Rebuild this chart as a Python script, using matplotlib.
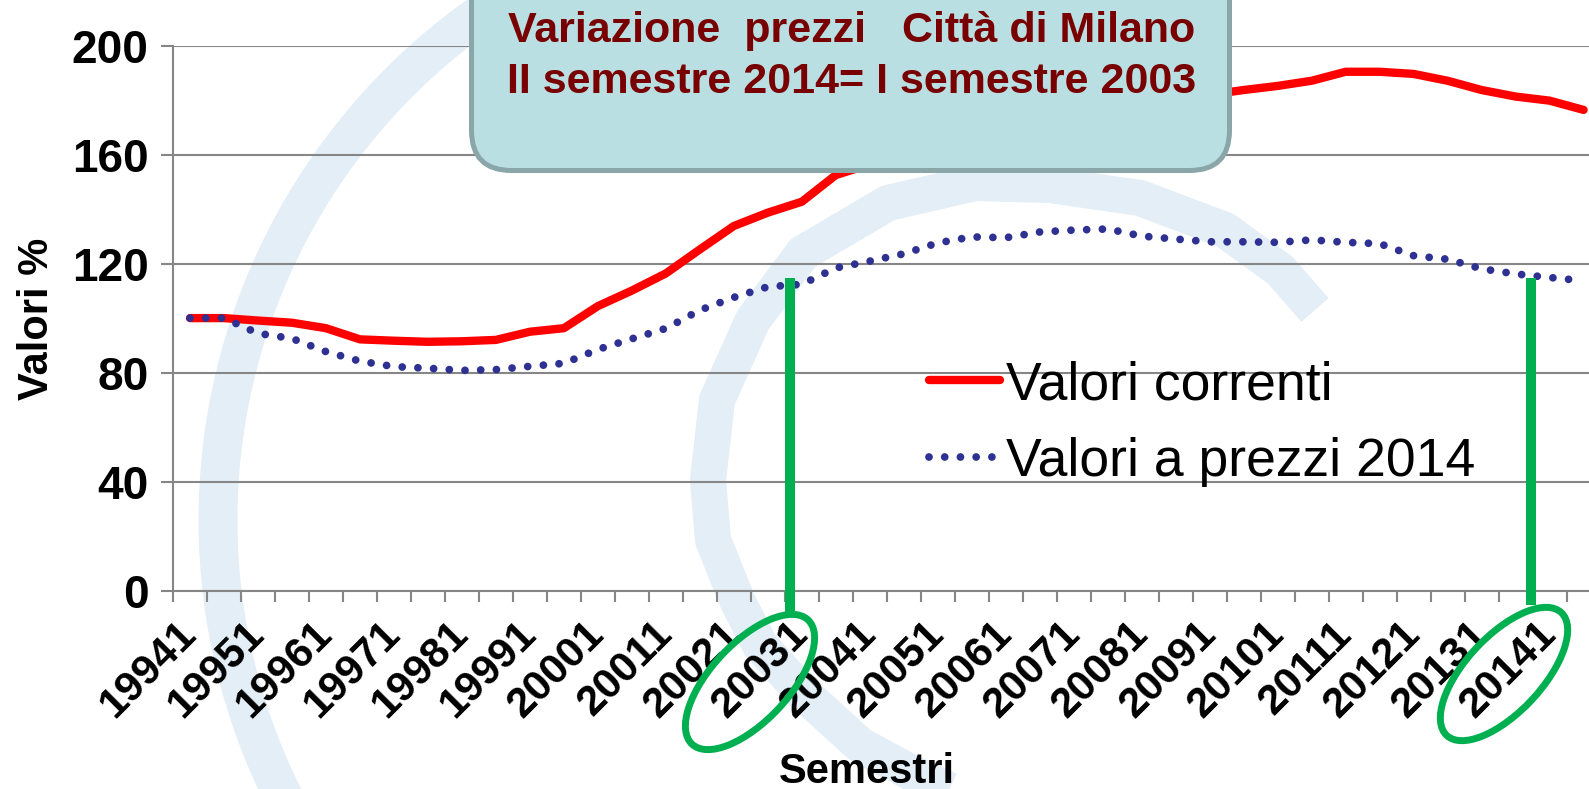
import matplotlib
matplotlib.use("Agg")
import matplotlib.pyplot as plt
from matplotlib.patches import Arc, Ellipse, FancyBboxPatch
import numpy as np

plt.rcParams['font.family'] = ['Liberation Sans', 'DejaVu Sans']

# semestri (anno + semestre)
semestri = ['19941', '19942', '19951', '19952', '19961', '19962', '19971', '19972',
            '19981', '19982', '19991', '19992', '20001', '20002', '20011', '20012',
            '20021', '20022', '20031', '20032', '20041', '20042', '20051', '20052',
            '20061', '20062', '20071', '20072', '20081', '20082', '20091', '20092',
            '20101', '20102', '20111', '20112', '20121', '20122', '20131', '20132',
            '20141', '20142']

# valori (quelli sotto il riquadro sono stimati)
valori_correnti = [100.0, 100.0, 99.1, 98.3, 96.3, 92.2, 91.7, 91.3, 91.5, 92.0,
                   95.0, 96.3, 104.4, 110.1, 116.4, 125.2, 133.8, 138.7, 142.7, 152.5,
                   156.4, 161.5, 168.4, 172.9, 174.2, 178.6, 181.3, 183.5, 181.6, 181.8,
                   182.0, 183.7, 185.2, 187.1, 190.4, 190.4, 189.6, 187.1, 183.7, 181.3,
                   179.8, 176.4]
valori_prezzi_2014 = [100.0, 100.0, 94.4, 92.5, 87.7, 84.2, 82.2, 81.6, 80.8, 81.1,
                      82.3, 83.4, 88.5, 92.4, 96.2, 102.9, 107.6, 111.5, 112.4, 118.4,
                      120.9, 123.6, 127.6, 129.8, 129.5, 131.6, 132.3, 132.7, 130.1, 129.0,
                      128.0, 128.0, 127.8, 128.7, 127.8, 127.3, 122.9, 121.6, 118.1, 116.2,
                      114.9, 113.7]
y_ticks = [0, 40, 80, 120, 160, 200]

W, H = 1589, 789
GRAY = '#868686'

fig = plt.figure(figsize=(W / 100, H / 100), dpi=100, facecolor='white')

# --- filigrana (logo sullo sfondo) ---
bg = fig.add_axes([0, 0, 1, 1], zorder=0)
bg.set_xlim(0, W)
bg.set_ylim(H, 0)
bg.axis('off')
WM = '#e3eef7'
bg.add_patch(Arc((837, 520), 1238, 1238, theta1=145, theta2=250, color=WM, lw=28))
spirale_x = [960, 910, 860, 803, 760, 737, 713, 708, 717, 753, 803, 888, 975,
             1050, 1140, 1225, 1280, 1315]
spirale_y = [795, 772, 745, 693, 645, 600, 540, 480, 400, 320, 253, 203, 183,
             185, 198, 230, 270, 310]
bg.plot(spirale_x, spirale_y, color=WM, lw=26, solid_joinstyle='round',
        solid_capstyle='butt')

# --- grafico ---
ax = fig.add_axes([173 / W, 1 - 590.6 / H, len(semestri) * 33.99 / W, 545 / H], zorder=1)
ax.patch.set_visible(False)
x = np.arange(len(semestri))

ax.plot(x, valori_correnti, color='#ff0000', lw=6, solid_capstyle='round',
        solid_joinstyle='round', label='Valori correnti', zorder=3)
ax.plot(x, valori_prezzi_2014, color='#2e3192', lw=5.6, linestyle=(0, (0.001, 2.02)),
        dash_capstyle='round', label='Valori a prezzi 2014', zorder=3)

ax.set_xlim(-0.5, len(semestri) - 0.5)
ax.set_ylim(0, 200)
ax.set_yticks(y_ticks)
ax.set_yticklabels([str(v) for v in y_ticks], fontsize=33, fontweight='bold')
ax.yaxis.grid(True, color=GRAY, lw=1.5)
ax.set_axisbelow(True)
ax.tick_params(axis='y', length=8.6, width=1.5, color=GRAY, pad=9)

for s in ['top', 'right']:
    ax.spines[s].set_visible(False)
for s in ['left', 'bottom']:
    ax.spines[s].set_color(GRAY)
    ax.spines[s].set_linewidth(1.5)

# tacche tra le categorie, etichette ogni due semestri
ax.set_xticks(np.arange(len(semestri) + 1) - 0.5)
ax.set_xticklabels([])
ax.tick_params(axis='x', which='major', length=8, width=1.5, color=GRAY)
ax.set_xticks(x[::2], labels=semestri[::2], minor=True, rotation=45, ha='right',
              va='center', rotation_mode='anchor', fontsize=30.5, fontweight='bold')
ax.tick_params(axis='x', which='minor', length=0, pad=27)

ax.legend(loc='upper left', bbox_to_anchor=(929 / W, 1 - 360 / H),
          bbox_transform=fig.transFigure, frameon=False, fontsize=38.5,
          handlelength=1.32, handletextpad=0.12, labelspacing=0.5,
          borderpad=0, borderaxespad=0)

fig.text(37 / W, 1 - 319 / H, 'Valori %', rotation=90, ha='center', va='center',
         fontsize=30, fontweight='bold')
fig.text(867 / W, 1 - 783 / H, 'Semestri', ha='center', va='baseline',
         fontsize=30, fontweight='bold')

# --- riquadro e annotazioni in verde ---
ov = fig.add_axes([0, 0, 1, 1], zorder=5)
ov.set_xlim(0, W)
ov.set_ylim(H, 0)
ov.axis('off')

ov.add_patch(FancyBboxPatch((471.5, -80), 758, 250.5,
                            boxstyle='round,pad=0,rounding_size=40',
                            fc='#b9dfe3', ec='#8ba6a9', lw=3.6))
ov.text(852, 42, 'Variazione  prezzi   Città di Milano', ha='center', va='baseline',
        fontsize=31, fontweight='bold', color='#780000')
ov.text(852, 93, 'II semestre 2014= I semestre 2003', ha='center', va='baseline',
        fontsize=31, fontweight='bold', color='#780000')

verde = '#00b050'
ov.plot([790, 790], [278, 612], color=verde, lw=7.2, solid_capstyle='butt')
ov.plot([1531, 1531], [278, 605], color=verde, lw=7.2, solid_capstyle='butt')
ov.add_patch(Ellipse((750, 682), 170, 78, angle=-47, fill=False, ec=verde, lw=5))
ov.add_patch(Ellipse((1504, 674), 168, 76, angle=-47, fill=False, ec=verde, lw=5))

fig.savefig('out.png', dpi=100)
